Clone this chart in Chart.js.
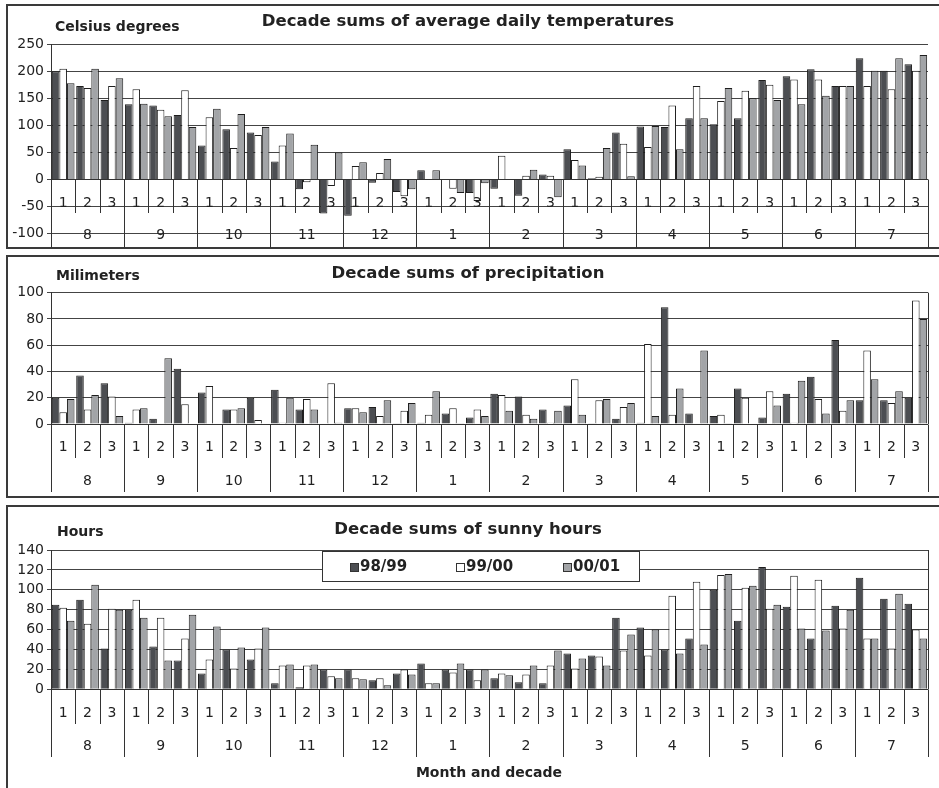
<!DOCTYPE html>
<html>
<head>
<meta charset="utf-8">
<script src="https://cdn.jsdelivr.net/npm/chart.js@4"></script>
<style>
  html, body { margin: 0; padding: 0; background: #fff; width: 939px; height: 788px; overflow: hidden; }
  .panel { position: absolute; left: 6px; width: 950px; box-sizing: border-box; border: 2px solid #3a3a3a; }
  canvas { position: absolute; left: 8px; }
</style>
</head>
<body>
<div class="panel" style="top:4px;height:245px"></div>
<div class="panel" style="top:255px;height:243px"></div>
<div class="panel" style="top:505px;height:290px"></div>
<canvas id="tempChart" width="942" height="252" style="top:0"></canvas>
<canvas id="precChart" width="942" height="250" style="top:252px"></canvas>
<canvas id="sunChart" width="942" height="286" style="top:502px"></canvas>
<script>
// months of the season, each split in three decades
const months = [8, 9, 10, 11, 12, 1, 2, 3, 4, 5, 6, 7];
const decades = [1, 2, 3];
const seasons = ["98/99", "99/00", "00/01"];
const categories = months.flatMap(m => decades.map(d => m + "-" + d));

// decade sums of average daily temperatures (Celsius degrees)
const temp9899 = [200, 173, 147, 139, 137, 119, 63, 93, 87, 33, -18, -63, -67, -6, -23, 17, 0, -25,
                  -17, -30, 9, 56, 2, 87, 98, 97, 113, 102, 113, 184, 191, 204, 173, 224, 201, 213];
const temp9900 = [205, 169, 173, 167, 129, 165, 115, 58, 82, 63, -5, -12, 25, 12, -31, 0, -17, -40,
                  44, 7, 7, 36, 5, 66, 60, 137, 173, 145, 164, 175, 185, 185, 173, 173, 167, 201];
const temp0001 = [178, 205, 187, 140, 117, 97, 131, 121, 97, 85, 64, 50, 32, 38, -18, 17, -25, -7,
                  0, 18, -33, 26, 58, 6, 99, 56, 113, 169, 150, 147, 139, 155, 173, 201, 224, 230];

// decade sums of precipitation (mm)
const prec9899 = [20, 37, 31, 1, 4, 42, 24, 11, 20, 26, 11, 0, 12, 13, 0.5, 1, 8, 5,
                  23, 21, 11, 14, 0.5, 4, 1, 89, 8, 6, 27, 5, 23, 36, 64, 18, 18, 20];
const prec9900 = [9, 11, 21, 11, 0, 15, 29, 11, 3, 1, 19, 31, 12, 6, 10, 7, 12, 11,
                  22, 7, 1, 34, 18, 13, 61, 7, 0, 7, 20, 25, 1, 19, 10, 56, 16, 94];
const prec0001 = [19, 22, 6, 12, 50, 0, 0, 12, 0, 20, 11, 1, 9, 18, 16, 25, 0.5, 6,
                  10, 4, 10, 7, 19, 16, 6, 27, 56, 0.5, 0, 14, 33, 8, 18, 34, 25, 80];

// decade sums of sunny hours
const sun9899 = [85, 90, 41, 80, 43, 29, 16, 40, 30, 6, 2, 20, 20, 9, 16, 26, 20, 20,
                 11, 7, 6, 36, 34, 72, 62, 40, 51, 100, 69, 123, 83, 51, 84, 112, 91, 86];
const sun9900 = [82, 66, 81, 90, 72, 51, 30, 21, 41, 24, 24, 13, 11, 11, 20, 6, 17, 9,
                 16, 15, 24, 21, 33, 39, 34, 94, 108, 115, 102, 81, 114, 110, 61, 51, 41, 60];
const sun0001 = [69, 105, 80, 72, 29, 75, 63, 42, 62, 25, 25, 11, 10, 4, 15, 6, 26, 20,
                 14, 24, 39, 31, 24, 55, 60, 36, 45, 116, 104, 85, 61, 59, 80, 51, 96, 51];

const colors = ["#4c4e52", "#ffffff", "#a2a4a7"];
const FONT = "'DejaVu Sans', sans-serif";
Chart.defaults.font.family = FONT;
Chart.defaults.color = "#222";

// month / decade labels under the zero line, separators, unit text, legend
const decadeAxis = {
  id: "decadeAxis",
  afterDatasetsDraw(chart, args, o) {
    const { ctx, chartArea: a, scales: { x, y } } = chart;
    const zero = Math.round(y.getPixelForValue(0)) + 0.5;
    const half = (x.getPixelForValue(1) - x.getPixelForValue(0)) / 2;
    ctx.save();
    ctx.strokeStyle = "#333";
    ctx.lineWidth = 1;
    ctx.beginPath();
    ctx.moveTo(a.left, zero);
    ctx.lineTo(a.right, zero);
    if (o.frame) {
      const r = Math.round(a.right) + 0.5;
      ctx.moveTo(r, a.top);
      ctx.lineTo(r, a.bottom);
    }
    for (let i = 0; i <= categories.length; i++) {
      const px = Math.round(x.getPixelForValue(i) - half) + 0.5;
      ctx.moveTo(px, zero);
      ctx.lineTo(px, i % 3 === 0 ? o.monthEnd : o.decadeEnd);
    }
    ctx.stroke();

    ctx.fillStyle = "#222";
    ctx.textAlign = "center";
    ctx.textBaseline = "middle";
    ctx.font = "14px " + FONT;
    categories.forEach((c, i) => ctx.fillText(String(decades[i % 3]), x.getPixelForValue(i), o.decadeY));
    months.forEach((m, k) => ctx.fillText(String(m), x.getPixelForValue(k * 3 + 1), o.monthY));

    ctx.font = "bold 14px " + FONT;
    if (o.xTitle) ctx.fillText(o.xTitle, o.xTitleX, o.xTitleY);
    ctx.textAlign = "left";
    ctx.fillText(o.unit, o.unitX, o.unitY);

    if (o.legend) {
      const L = o.legend;
      ctx.fillStyle = "#fff";
      ctx.fillRect(L.x, L.y, L.w, L.h);
      ctx.strokeRect(L.x, L.y, L.w, L.h);
      ctx.font = "bold 15px " + FONT;
      chart.data.datasets.forEach((ds, i) => {
        const cy = L.y + L.h / 2;
        ctx.fillStyle = ds.backgroundColor;
        ctx.fillRect(L.itemX[i] + 0.5, Math.round(cy - 4) + 0.5, 8, 8);
        ctx.strokeRect(L.itemX[i] + 0.5, Math.round(cy - 4) + 0.5, 8, 8);
        ctx.fillStyle = "#222";
        ctx.fillText(ds.label, L.itemX[i] + 10, cy + 1);
      });
    }
    ctx.restore();
  }
};

function makeChart(id, series, yMin, yMax, yStep, title, titlePad, layoutPad, axis) {
  return new Chart(document.getElementById(id), {
    type: "bar",
    data: {
      labels: categories,
      datasets: series.map((data, i) => ({
        label: seasons[i],
        data,
        backgroundColor: colors[i],
        borderColor: "#1e1e1e",
        borderWidth: 1,
        barPercentage: 1,
        categoryPercentage: 0.93
      }))
    },
    options: {
      responsive: false,
      devicePixelRatio: 1,
      animation: false,
      events: [],
      layout: { padding: layoutPad },
      scales: {
        x: { display: false },
        y: {
          min: yMin, max: yMax,
          afterFit: s => { s.width = 43; },
          ticks: { stepSize: yStep, font: { size: 14 }, color: "#222", padding: 3 },
          grid: { color: "#444", lineWidth: 1, tickLength: 4 },
          border: { display: true, color: "#333" }
        }
      },
      plugins: {
        legend: { display: false },
        tooltip: { enabled: false },
        title: {
          display: true, text: title, color: "#222",
          font: { size: 16.5, weight: "bold" },
          padding: titlePad
        },
        decadeAxis: axis
      }
    },
    plugins: [decadeAxis]
  });
}

makeChart("tempChart", [temp9899, temp9900, temp0001], -100, 250, 50,
  "Decade sums of average daily temperatures",
  { top: 12, bottom: 12.5 }, { left: 0, right: 22, top: 0, bottom: 18.5 },
  { unit: "Celsius degrees", unitX: 47, unitY: 27.5, decadeY: 203, monthY: 235,
    decadeEnd: 213, monthEnd: 248, frame: false });

makeChart("precChart", [prec9899, prec9900, prec0001], 0, 100, 20,
  "Decade sums of precipitation",
  { top: 11.8, bottom: 9.1 }, { left: 0, right: 22, top: 0, bottom: 78 },
  { unit: "Milimeters", unitX: 48, unitY: 24, decadeY: 195.5, monthY: 229,
    decadeEnd: 206, monthEnd: 240, frame: true });

makeChart("sunChart", [sun9899, sun9900, sun0001], 0, 140, 20,
  "Decade sums of sunny hours",
  { top: 18.1, bottom: 10.1 }, { left: 0, right: 22, top: 0, bottom: 98.7 },
  { unit: "Hours", unitX: 49, unitY: 30.5, decadeY: 211, monthY: 244.7,
    decadeEnd: 222, monthEnd: 255, frame: true,
    xTitle: "Month and decade", xTitleX: 481, xTitleY: 271,
    legend: { x: 314.5, y: 49.5, w: 317, h: 30, itemX: [342, 448, 555] } });
</script>
</body>
</html>
